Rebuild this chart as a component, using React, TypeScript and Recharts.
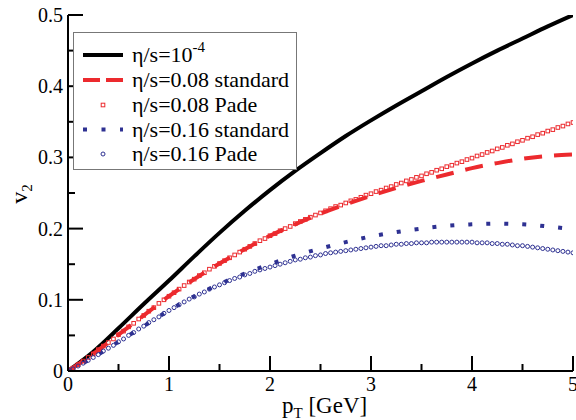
import React from "react";
import { LineChart, Line, XAxis, YAxis } from "recharts";

// v2(pT) for different eta/s — standard vs Pade viscous corrections

const ptCoarse = [0, 0.25, 0.5, 0.75, 1, 1.25, 1.5, 1.75, 2, 2.25, 2.5, 2.75, 3, 3.25, 3.5, 3.75, 4, 4.25, 4.5, 4.75, 5];

const idealV2 = [0, 0.027, 0.06, 0.094, 0.127, 0.161, 0.194, 0.225, 0.254, 0.281, 0.306, 0.33, 0.352, 0.373, 0.393, 0.413, 0.432, 0.45, 0.467, 0.484, 0.5];
const std008V2 = [0, 0.024, 0.051, 0.078, 0.105, 0.129, 0.151, 0.171, 0.19, 0.206, 0.221, 0.234, 0.246, 0.257, 0.267, 0.276, 0.285, 0.292, 0.298, 0.302, 0.304];
const std016V2 = [0, 0.019, 0.041, 0.063, 0.085, 0.105, 0.122, 0.137, 0.15, 0.162, 0.172, 0.181, 0.189, 0.195, 0.2, 0.204, 0.206, 0.207, 0.206, 0.203, 0.199];

// Pade points, pT = 0, 0.05, ..., 5
const pade008V2 = [
  0, 0.004, 0.009, 0.014, 0.019, 0.024, 0.03, 0.035, 0.04, 0.045,
  0.051, 0.056, 0.062, 0.067, 0.073, 0.078, 0.084, 0.089, 0.095, 0.1,
  0.105, 0.11, 0.115, 0.12, 0.125, 0.129, 0.134, 0.138, 0.143, 0.147,
  0.151, 0.155, 0.159, 0.163, 0.167, 0.171, 0.175, 0.179, 0.183, 0.186,
  0.19, 0.193, 0.197, 0.2, 0.203, 0.207, 0.21, 0.213, 0.216, 0.219,
  0.222, 0.225, 0.228, 0.231, 0.233, 0.236, 0.239, 0.241, 0.244, 0.247,
  0.249, 0.252, 0.254, 0.257, 0.259, 0.262, 0.264, 0.267, 0.269, 0.272,
  0.274, 0.277, 0.279, 0.282, 0.284, 0.287, 0.289, 0.292, 0.294, 0.297,
  0.299, 0.302, 0.304, 0.307, 0.309, 0.312, 0.314, 0.317, 0.319, 0.322,
  0.324, 0.327, 0.329, 0.332, 0.334, 0.337, 0.339, 0.342, 0.344, 0.347,
  0.349,
];
const pade016V2 = [
  0, 0.003, 0.007, 0.011, 0.015, 0.019, 0.023, 0.028, 0.032, 0.036,
  0.041, 0.045, 0.05, 0.054, 0.059, 0.063, 0.068, 0.072, 0.076, 0.081,
  0.085, 0.089, 0.093, 0.097, 0.101, 0.104, 0.108, 0.111, 0.115, 0.118,
  0.121, 0.124, 0.127, 0.13, 0.132, 0.135, 0.137, 0.14, 0.142, 0.144,
  0.146, 0.148, 0.15, 0.152, 0.154, 0.156, 0.157, 0.159, 0.16, 0.162,
  0.163, 0.165, 0.166, 0.167, 0.168, 0.169, 0.17, 0.171, 0.172, 0.173,
  0.174, 0.175, 0.176, 0.176, 0.177, 0.178, 0.178, 0.179, 0.179, 0.18,
  0.18, 0.18, 0.181, 0.181, 0.181, 0.181, 0.181, 0.181, 0.181, 0.181,
  0.181, 0.18, 0.18, 0.18, 0.179, 0.179, 0.178, 0.178, 0.177, 0.176,
  0.176, 0.175, 0.174, 0.173, 0.172, 0.171, 0.17, 0.169, 0.168, 0.167,
  0.166,
];

const xTicks = [0, 0.5, 1, 1.5, 2, 2.5, 3, 3.5, 4, 4.5, 5];
const xMajor = [0, 1, 2, 3, 4, 5];
const xTickLabels = ["0", "1", "2", "3", "4", "5"];
const yTicks = [0, 0.05, 0.1, 0.15, 0.2, 0.25, 0.3, 0.35, 0.4, 0.45, 0.5];
const yMajor = [0, 0.1, 0.2, 0.3, 0.4, 0.5];
const yTickLabels = ["0", "0.1", "0.2", "0.3", "0.4", "0.5"];

const RED = "#ec2a2e";
const BLUE = "#2e3192";
const serif = { fontFamily: "Liberation Serif, Times New Roman, serif" };

const ptFine = pade008V2.map((_, i) => i / 20);
const toRows = (xs: number[], ys: number[]) => xs.map((pt, i) => ({ pt, v: ys[i] }));

const majorIndex = (list: number[], v: number) => list.findIndex((m) => Math.abs(m - v) < 1e-6);

// ticks point inward; labels only on major ticks
const BottomTick = (props: any) => {
  const { x, y, payload } = props;
  const i = majorIndex(xMajor, payload.value);
  return (
    <g>
      <line x1={x} x2={x} y1={y} y2={y - (i >= 0 ? 15 : 7)} stroke="#000" strokeWidth={2} />
      {i >= 0 && (
        <text x={x} y={y + 20} textAnchor="middle" fontSize={20} style={serif} fill="#000">
          {xTickLabels[i]}
        </text>
      )}
    </g>
  );
};

const TopTick = (props: any) => {
  const { x, y, payload } = props;
  const major = majorIndex(xMajor, payload.value) >= 0;
  return <line x1={x} x2={x} y1={y} y2={y + (major ? 15 : 7)} stroke="#000" strokeWidth={2} />;
};

const LeftTick = (props: any) => {
  const { x, y, payload } = props;
  const i = majorIndex(yMajor, payload.value);
  return (
    <g>
      <line x1={x} x2={x + (i >= 0 ? 15 : 7)} y1={y} y2={y} stroke="#000" strokeWidth={2} />
      {i >= 0 && (
        <text x={x - 5} y={y + 7} textAnchor="end" fontSize={20} style={serif} fill="#000">
          {yTickLabels[i]}
        </text>
      )}
    </g>
  );
};

const RightTick = (props: any) => {
  const { x, y, payload } = props;
  const major = majorIndex(yMajor, payload.value) >= 0;
  return <line x1={x} x2={x - (major ? 15 : 7)} y1={y} y2={y} stroke="#000" strokeWidth={2} />;
};

const SquareDot = (props: any) => {
  const { cx, cy, index } = props;
  if (cx == null || cy == null) return <g key={index} />;
  return <rect key={index} x={cx - 1.8} y={cy - 1.8} width={3.6} height={3.6} fill="none" stroke={RED} strokeWidth={1} />;
};

const CircleDot = (props: any) => {
  const { cx, cy, index } = props;
  if (cx == null || cy == null) return <g key={index} />;
  return <circle key={index} cx={cx} cy={cy} r={2} fill="none" stroke={BLUE} strokeWidth={1} />;
};

const XTitle = (props: any) => {
  const { viewBox } = props;
  return (
    <text x={viewBox.x + 214} y={viewBox.y + 42} fontSize={23} style={serif} fill="#000">
      p
      <tspan fontSize={15} dy={5}>T</tspan>
      <tspan dy={-5}> [GeV]</tspan>
    </text>
  );
};

const YTitle = () => (
  <text x={20} y={201} fontSize={24} style={serif} fill="#000" textAnchor="middle" transform="rotate(-90, 20, 194)">
    v
    <tspan fontSize={15} dy={5}>2</tspan>
  </text>
);

type Entry = { label: React.ReactNode; kind: "solid" | "dash" | "square" | "dot" | "circle" };
const legendEntries: Entry[] = [
  {
    label: (
      <>
        η/s=10<tspan fontSize={15} dy={-10}>-4</tspan>
      </>
    ),
    kind: "solid",
  },
  { label: "η/s=0.08 standard", kind: "dash" },
  { label: "η/s=0.08 Pade", kind: "square" },
  { label: "η/s=0.16 standard", kind: "dot" },
  { label: "η/s=0.16 Pade", kind: "circle" },
];
const legendRowY = [22, 47, 72, 96.5, 121];

function LegendBox() {
  return (
    <div
      style={{
        position: "absolute",
        left: 73,
        top: 32,
        width: 222,
        height: 136,
        border: "1px solid #777",
        background: "#fff",
      }}
    >
      <svg width={222} height={136}>
        {legendEntries.map((e, i) => {
          const cy = legendRowY[i];
          let sample: React.ReactNode = null;
          if (e.kind === "solid") sample = <line x1={9} x2={49} y1={cy} y2={cy} stroke="#000" strokeWidth={4} />;
          if (e.kind === "dash")
            sample = <line x1={9} x2={49} y1={cy} y2={cy} stroke={RED} strokeWidth={4} strokeDasharray="17 6" />;
          if (e.kind === "square")
            sample = <rect x={27.2} y={cy - 1.8} width={3.6} height={3.6} fill="none" stroke={RED} strokeWidth={1} />;
          if (e.kind === "dot")
            sample = <line x1={9} x2={49} y1={cy} y2={cy} stroke={BLUE} strokeWidth={4} strokeDasharray="4 14.5" />;
          if (e.kind === "circle") sample = <circle cx={29} cy={cy} r={2} fill="none" stroke={BLUE} strokeWidth={1} />;
          return (
            <g key={i}>
              {sample}
              <text x={58} y={cy + 7} fontSize={22} style={serif} fill="#000">
                {e.label}
              </text>
            </g>
          );
        })}
      </svg>
    </div>
  );
}

export default function App() {
  return (
    <div style={{ position: "absolute", left: 0, top: 0, width: 576, height: 420, background: "#fff" }}>
      <LineChart width={576} height={420} margin={{ top: 15, right: 3, bottom: 0, left: 0 }}>
        <XAxis
          xAxisId="b"
          dataKey="pt"
          type="number"
          domain={[0, 5]}
          ticks={xTicks}
          interval={0}
          height={49}
          tickSize={0}
          tickMargin={0}
          tickLine={false}
          tick={<BottomTick />}
          axisLine={{ stroke: "#000", strokeWidth: 2 }}
          allowDataOverflow
          label={<XTitle />}
        />
        <XAxis
          xAxisId="t"
          orientation="top"
          dataKey="pt"
          type="number"
          domain={[0, 5]}
          ticks={xTicks}
          interval={0}
          height={0}
          tickSize={0}
          tickMargin={0}
          tickLine={false}
          tick={<TopTick />}
          axisLine={{ stroke: "#000", strokeWidth: 2 }}
        />
        <YAxis
          yAxisId="l"
          type="number"
          domain={[0, 0.5]}
          ticks={yTicks}
          interval={0}
          width={68}
          tickSize={0}
          tickMargin={0}
          tickLine={false}
          tick={<LeftTick />}
          axisLine={{ stroke: "#000", strokeWidth: 2 }}
          allowDataOverflow
          label={<YTitle />}
        />
        <YAxis
          yAxisId="r"
          orientation="right"
          type="number"
          domain={[0, 0.5]}
          ticks={yTicks}
          interval={0}
          width={0}
          tickSize={0}
          tickMargin={0}
          tickLine={false}
          tick={<RightTick />}
          axisLine={{ stroke: "#000", strokeWidth: 2 }}
        />
        <Line
          xAxisId="b"
          yAxisId="l"
          data={toRows(ptCoarse, idealV2)}
          dataKey="v"
          type="monotone"
          stroke="#000"
          strokeWidth={4}
          dot={false}
          isAnimationActive={false}
        />
        <Line
          xAxisId="b"
          yAxisId="l"
          data={toRows(ptCoarse, std008V2)}
          dataKey="v"
          type="monotone"
          stroke={RED}
          strokeWidth={4}
          strokeDasharray="18 12"
          dot={false}
          isAnimationActive={false}
        />
        <Line
          xAxisId="b"
          yAxisId="l"
          data={toRows(ptFine, pade008V2)}
          dataKey="v"
          stroke="none"
          dot={<SquareDot />}
          activeDot={false}
          isAnimationActive={false}
        />
        <Line
          xAxisId="b"
          yAxisId="l"
          data={toRows(ptCoarse, std016V2)}
          dataKey="v"
          type="monotone"
          stroke={BLUE}
          strokeWidth={4}
          strokeDasharray="4 14"
          dot={false}
          isAnimationActive={false}
        />
        <Line
          xAxisId="b"
          yAxisId="l"
          data={toRows(ptFine, pade016V2)}
          dataKey="v"
          stroke="none"
          dot={<CircleDot />}
          activeDot={false}
          isAnimationActive={false}
        />
      </LineChart>
      <LegendBox />
    </div>
  );
}
